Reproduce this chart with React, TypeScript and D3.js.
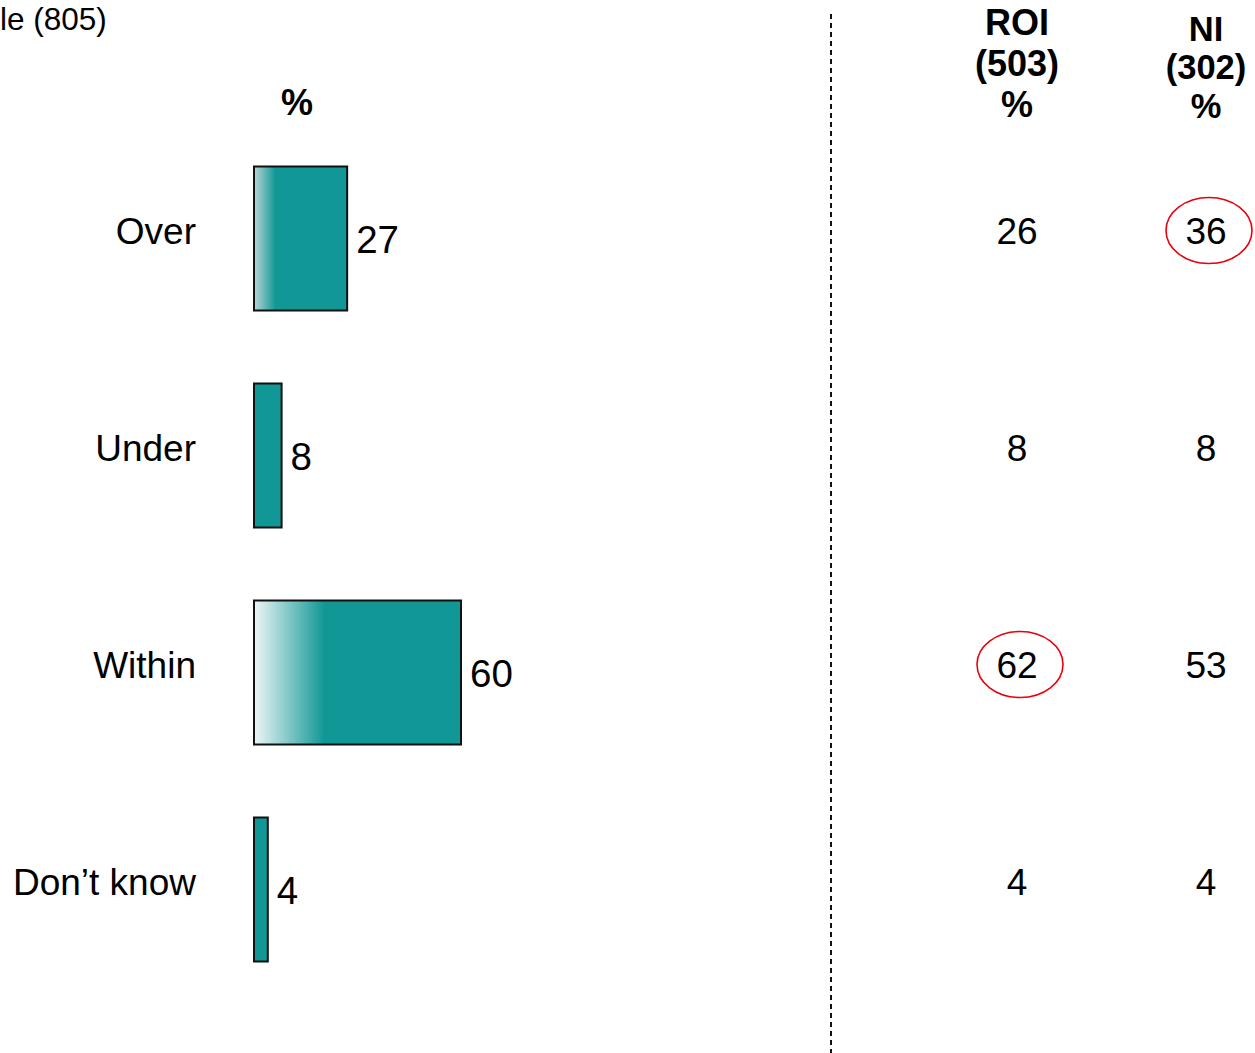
import React, { useEffect, useRef } from 'react';
import * as d3 from 'd3';

const categories = ['Over', 'Under', 'Within', 'Don\u2019t know'];
const totalValues = [27, 8, 60, 4];
const roiValues = [26, 8, 62, 4];
const niValues = [36, 8, 53, 4];
// which cells in the region columns are circled
const roiCircled = [false, false, true, false];
const niCircled = [true, false, false, false];
const roiHeader = ['ROI', '(503)', '%'];
const niHeader = ['NI', '(302)', '%'];
const sampleLabel = 'le (805)';

const W = 1255;
const H = 1053;
const TEAL = '#119896';

const App: React.FC = () => {
    const ref = useRef<SVGSVGElement>(null);

    useEffect(() => {
        const svg = d3.select(ref.current);
        svg.selectAll('*').remove();

        const font = '"Liberation Sans", Arial, sans-serif';

        const y = d3.scaleBand<string>()
            .domain(categories)
            .range([130, 998])
            .paddingInner(73 / 217)
            .paddingOuter(73 / 217 / 2);

        const x = d3.scaleLinear().domain([0, 60]).range([254, 461]);

        // left fade on the bigger bars
        const defs = svg.append('defs');
        const fadeStops = [
            { id: 'fade0', start: '#b9d6d6', end: 0.23 },
            { id: 'fade2', start: '#eef6f6', end: 0.34 },
        ];
        fadeStops.forEach(f => {
            const g = defs.append('linearGradient')
                .attr('id', f.id)
                .attr('x1', 0).attr('x2', 1).attr('y1', 0).attr('y2', 0);
            g.append('stop').attr('offset', 0).attr('stop-color', f.start);
            g.append('stop').attr('offset', f.end).attr('stop-color', TEAL);
            g.append('stop').attr('offset', 1).attr('stop-color', TEAL);
        });

        svg.append('text')
            .attr('x', 0)
            .attr('y', 30)
            .style('font-family', font)
            .style('font-size', '31.5px')
            .text(sampleLabel);

        svg.append('text')
            .attr('x', 297)
            .attr('y', 115)
            .attr('text-anchor', 'middle')
            .style('font-family', font)
            .style('font-size', '36px')
            .style('font-weight', 'bold')
            .text('%');

        const rows = svg.append('g');

        rows.selectAll('rect.bar')
            .data(categories)
            .enter()
            .append('rect')
            .attr('class', 'bar')
            .attr('x', x(0))
            .attr('y', d => y(d)!)
            .attr('width', (_, i) => x(totalValues[i]) - x(0))
            .attr('height', y.bandwidth())
            .attr('fill', (_, i) => i === 0 ? 'url(#fade0)' : i === 2 ? 'url(#fade2)' : TEAL)
            .attr('stroke', '#111')
            .attr('stroke-width', 2);

        rows.selectAll('text.cat')
            .data(categories)
            .enter()
            .append('text')
            .attr('class', 'cat')
            .attr('x', 196)
            .attr('y', d => y(d)! + y.bandwidth() / 2 + 5)
            .attr('text-anchor', 'end')
            .style('font-family', font)
            .style('font-size', '37px')
            .text(d => d);

        rows.selectAll('text.val')
            .data(categories)
            .enter()
            .append('text')
            .attr('class', 'val')
            .attr('x', (_, i) => x(totalValues[i]) + 9)
            .attr('y', d => y(d)! + y.bandwidth() / 2 + 14)
            .style('font-family', font)
            .style('font-size', '38.5px')
            .text((_, i) => totalValues[i]);

        // divider
        svg.append('line')
            .attr('x1', 831).attr('x2', 831)
            .attr('y1', 14).attr('y2', H)
            .attr('stroke', '#111')
            .attr('stroke-width', 2)
            .attr('stroke-dasharray', '5,4');

        const columns = [
            { cx: 1017, header: roiHeader, headSize: 36, headY: [35, 76, 116.5], values: roiValues, circled: roiCircled },
            { cx: 1206, header: niHeader, headSize: 34.5, headY: [40.5, 79, 117.5], values: niValues, circled: niCircled },
        ];

        columns.forEach(col => {
            const g = svg.append('g');
            g.selectAll('text.head')
                .data(col.header)
                .enter()
                .append('text')
                .attr('class', 'head')
                .attr('x', col.cx)
                .attr('y', (_, i) => col.headY[i])
                .attr('text-anchor', 'middle')
                .style('font-family', font)
                .style('font-size', `${col.headSize}px`)
                .style('font-weight', 'bold')
                .text(d => d);

            g.selectAll('ellipse')
                .data(categories.filter((_, i) => col.circled[i]))
                .enter()
                .append('ellipse')
                .attr('cx', col.cx + 3)
                .attr('cy', d => y(d)! + y.bandwidth() / 2 - 8)
                .attr('rx', 43)
                .attr('ry', 33)
                .attr('fill', 'none')
                .attr('stroke', '#e8000b')
                .attr('stroke-width', 1.6);

            g.selectAll('text.num')
                .data(categories)
                .enter()
                .append('text')
                .attr('class', 'num')
                .attr('x', col.cx)
                .attr('y', d => y(d)! + y.bandwidth() / 2 + 5)
                .attr('text-anchor', 'middle')
                .style('font-family', font)
                .style('font-size', '37px')
                .text((_, i) => col.values[i]);
        });
    }, []);

    return (
        <svg
            ref={ref}
            width={W}
            height={H}
            style={{ position: 'absolute', left: 0, top: 0, background: '#fff', display: 'block' }}
        />
    );
};

export default App;
